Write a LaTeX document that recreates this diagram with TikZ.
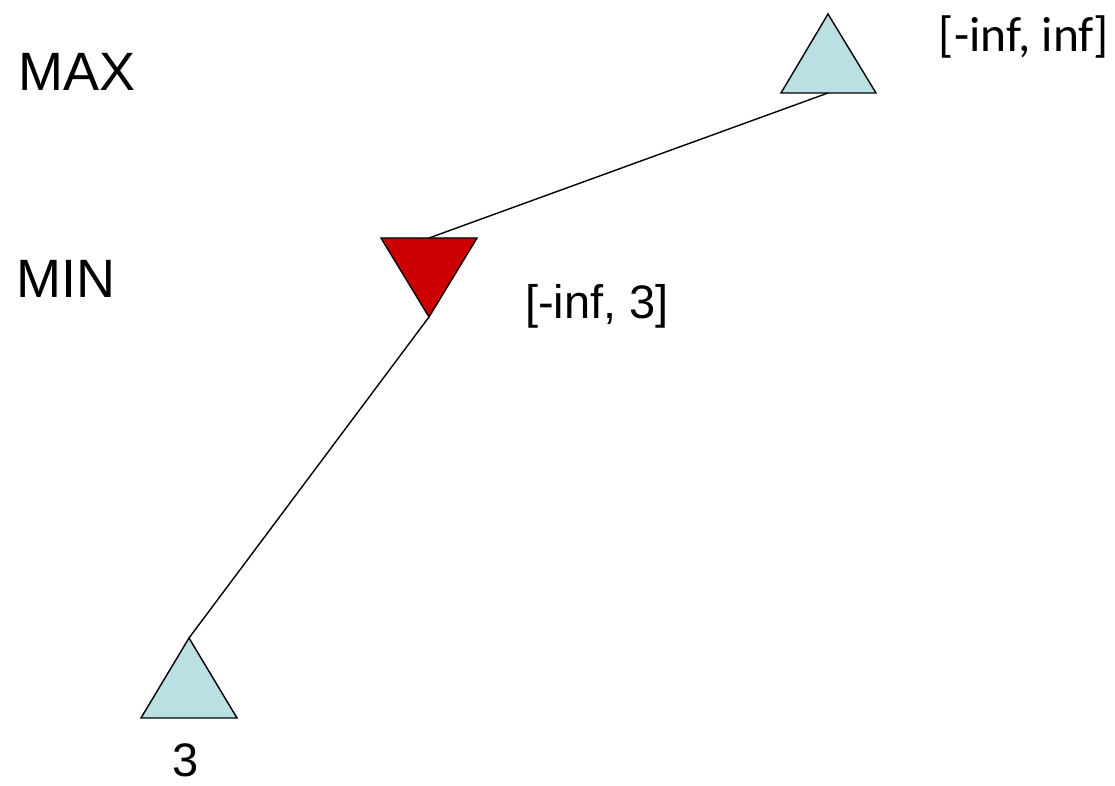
\documentclass[tikz,border=0pt]{standalone}
\usepackage{fontspec}
\setmainfont{Liberation Sans}
\newfontfamily\calib{Carlito}
\definecolor{maxfill}{HTML}{BAE0E3}
\definecolor{minfill}{HTML}{CC0000}
\begin{document}
\begin{tikzpicture}[x=1pt,y=-1pt,
  tri/.style={draw=black,line width=1.4pt,line join=miter},
  edge/.style={draw=black,line width=1.4pt},
  lvl/.style={anchor=west,inner sep=0pt,font=\fontsize{54}{60}\selectfont},
  val/.style={inner sep=0pt,font=\fontsize{47}{52}\selectfont}]
\useasboundingbox (0,0) rectangle (1115,786);
% MAX root
\coordinate (rootApex) at (828,14);
\coordinate (rootBase) at (828,93);
\fill[maxfill] (781,93) -- (rootApex) -- (876,93) -- cycle;
\draw[tri] (781,93) -- (rootApex) -- (876,93) -- cycle;
% MIN node
\coordinate (minBase) at (429,238);
\coordinate (minApex) at (429,317);
\fill[minfill] (381,238) -- (477,238) -- (minApex) -- cycle;
\draw[tri] (381,238) -- (477,238) -- (minApex) -- cycle;
% leaf
\coordinate (leafApex) at (189,638);
\fill[maxfill] (141,718) -- (leafApex) -- (237,718) -- cycle;
\draw[tri] (141,718) -- (leafApex) -- (237,718) -- cycle;
% edges
\draw[edge] (rootBase) -- (minBase);
\draw[edge] (minApex) -- (leafApex);
% labels
\node[lvl] (maxlbl) at (18,72) {MAX};
\node[lvl] (minlbl) at (16,279) {MIN};
\node[inner sep=0pt,font=\calib\fontsize{49.5}{54}\selectfont] (rootval) at (1024,37) {[-inf, inf]};
\node[val] (minval) at (597,306) {[-inf, 3]};
\node[val,anchor=base,text height=34pt,text depth=0pt] (leafval) at (186,776) {3};
\end{tikzpicture}
\end{document}
